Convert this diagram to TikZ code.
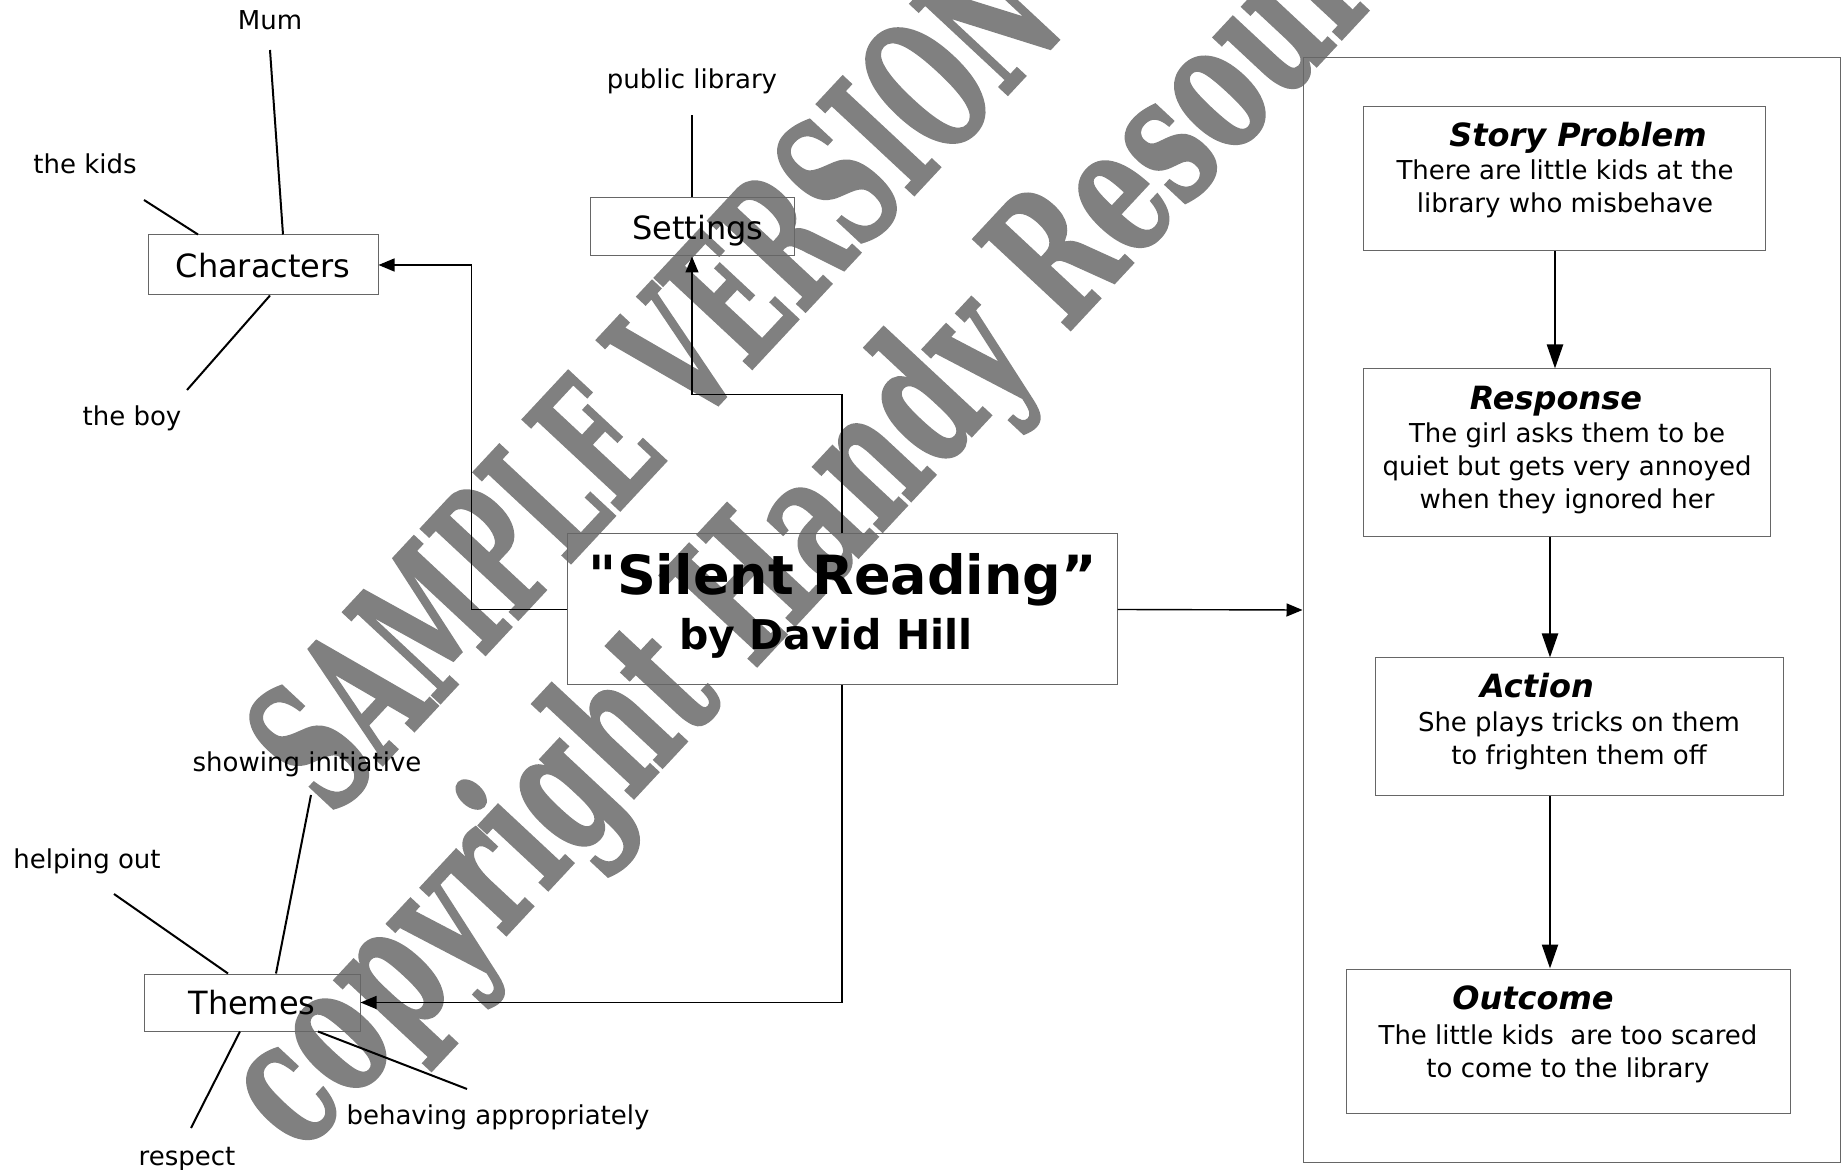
\documentclass[tikz,border=0pt]{standalone}
\usepackage{fontspec}
\usepackage{graphicx}
\usepackage{tikz}
\usetikzlibrary{arrows.meta}
\setmainfont{DejaVu Sans}[Ligatures=TeXOff]
\newfontfamily\wmkfont{DejaVu Serif}[BoldFeatures={FakeBold=1.5}]
\colorlet{edg}{black!60}
\colorlet{wmk}{black!50}

\begin{document}
\begin{tikzpicture}[x=0.5pt,y=0.5pt,
        boxed/.style={draw=edg,line width=0.5pt,inner sep=0pt},
        hub/.style={boxed,font=\fontsize{16}{19}\selectfont,text depth=0pt},
        leaf/.style={inner sep=0pt,anchor=base,font=\fontsize{13}{16}\selectfont},
        heading/.style={inner sep=0pt,anchor=base,font=\fontsize{16}{19}\selectfont\bfseries\itshape},
        blurb/.style={inner sep=0pt,anchor=base,align=center,font=\fontsize{13}{16.5}\selectfont},
        spoke/.style={line width=1pt},
        feed/.style={line width=0.7pt,-{Triangle[length=8pt,width=6.5pt]}},
        flow/.style={line width=1.2pt,-{Triangle[length=12pt,width=8pt]}},
        stamp/.style={rotate=47,anchor=base west,inner sep=0pt,text=wmk,
            font=\wmkfont\bfseries\fontsize{91}{91}\selectfont}]
            \useasboundingbox (0,0) rectangle (1843,-1170);

            \begin{scope}
                \clip (0,0) rectangle (1843,-1170);
                \node [stamp] (wm1) at (332,-819) {\scalebox{0.564}[1]{SAMPLE VERSION}};
                \node [stamp] (wm2) at (300,-1156) {\scalebox{0.64}[1]{copyright Handy Resources}};
            \end{scope}

            \node [boxed,minimum width=275pt,minimum height=75.5pt] (story) at (842,-609.5) {};
            \node [inner sep=0pt,anchor=base,font=\fontsize{27}{32}\selectfont\bfseries] (title) at (843,-595) {"Silent Reading”};
            \node [inner sep=0pt,anchor=base,font=\fontsize{20.5}{24}\selectfont\bfseries] (author) at (826,-650) {by David Hill};

            \node [hub,minimum width=115pt,minimum height=30pt] (chars) at (263,-265) {Characters};
            \node [hub,minimum width=102pt,minimum height=29pt] (setg) at (692,-227) {\hspace{6pt}Settings};
            \node [hub,minimum width=108pt,minimum height=28.5pt] (themes) at (252,-1002.5) {Themes};

            \node [leaf] (mum) at (270,-30) {Mum};
            \node [leaf] (kids) at (85,-174) {the kids};
            \node [leaf] (boy) at (132,-426) {the boy};
            \node [leaf] (lib) at (692,-89) {public library};
            \node [leaf] (init) at (307,-771) {showing initiative};
            \node [leaf] (help) at (87,-868) {helping out};
            \node [leaf] (resp) at (187,-1165) {respect};
            \node [leaf] (behave) at (498,-1124) {behaving appropriately};

            \coordinate (mumend) at (270,-50);
            \coordinate (kidsend) at (144,-200);
            \coordinate (boyend) at (187,-390);
            \coordinate (libend) at (692,-115);
            \coordinate (initend) at (311,-795);
            \coordinate (helpend) at (114,-894);
            \coordinate (respend) at (191,-1128);
            \coordinate (behend) at (467,-1089);

            \draw [spoke] ([xshift=10pt]chars.north) -- (mumend);
            \draw [spoke] ([xshift=-32.5pt]chars.north) -- (kidsend);
            \draw [spoke] ([xshift=3.5pt]chars.south) -- (boyend);
            \draw [spoke] (setg.north) -- (libend);
            \draw [spoke] ([xshift=12pt]themes.north) -- (initend);
            \draw [spoke] ([xshift=-12pt]themes.north) -- (helpend);
            \draw [spoke] ([xshift=-6pt]themes.south) -- (respend);
            \draw [spoke] ([xshift=33pt]themes.south) -- (behend);

            \node [boxed,minimum width=268.5pt,minimum height=552pt] (frame) at (1571.5,-610) {};
            \node [boxed,minimum width=201pt,minimum height=72pt] (prob) at (1564,-179) {};
            \node [boxed,minimum width=203.5pt,minimum height=84pt] (resp) at (1566.5,-453) {};
            \node [boxed,minimum width=204pt,minimum height=69pt] (act) at (1579,-727) {};
            \node [boxed,minimum width=222pt,minimum height=72pt] (out) at (1568,-1041) {};

            \node [heading] (probhd) at (1578,-147) {Story Problem};
            \node [blurb] (probtx) at (1565,-213) {There are little kids at the\\library who misbehave};
            \node [heading] (resphd) at (1556,-410) {Response};
            \node [blurb] (resptx) at (1567,-509) {The girl asks them to be\\quiet but gets very annoyed\\when they ignored her};
            \node [heading] (acthd) at (1537,-698) {Action};
            \node [blurb] (acttx) at (1579,-764) {She plays tricks on them\\to frighten them off};
            \node [heading] (outhd) at (1533,-1009) {Outcome};
            \node [blurb] (outtx) at (1568,-1077) {The little kids~ are too scared\\to come to the library};

            \draw [feed] (story.west) -- ++(-95,0) |- (chars.east);
            \draw [feed] (story.north) -- ++(0,139) -| (setg.south);
            \draw [feed] (story.south) |- (themes.east);
            \draw [feed] (story.east) -- (frame.west);

            \coordinate (spineA) at (1555,0);
            \coordinate (spineB) at (1550,0);
            \foreach \a/\b/\c in {prob/resp/spineA,resp/act/spineB,act/out/spineB} {
                \draw [flow] (\a.south -| \c) -- (\b.north -| \c);
            }
        \end{tikzpicture}
\end{document}
